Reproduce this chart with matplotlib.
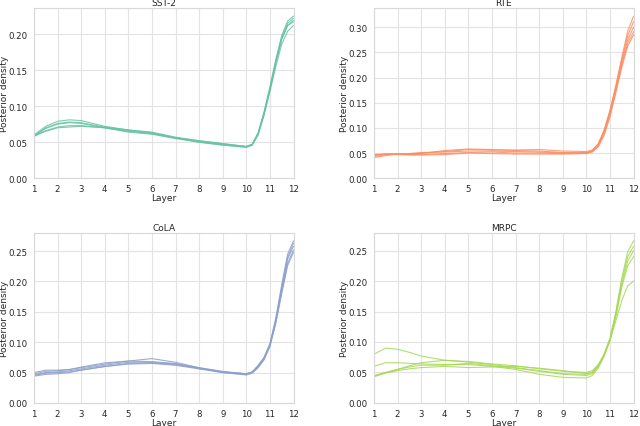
import numpy as np
import seaborn as sns
import matplotlib
matplotlib.use("Agg")
import matplotlib.pyplot as plt

layers = [1, 1.5, 2, 2.5, 3, 4, 5, 6, 7, 8, 9, 10,
          10.25, 10.5, 10.75, 11, 11.25, 11.5, 11.75, 12]

sst2 = [
    [0.060, 0.072, 0.079, 0.081, 0.080, 0.072, 0.067, 0.064, 0.057, 0.052, 0.048, 0.044, 0.047, 0.063, 0.092, 0.127, 0.165, 0.198, 0.218, 0.225],
    [0.059, 0.070, 0.076, 0.078, 0.077, 0.071, 0.067, 0.063, 0.056, 0.051, 0.047, 0.044, 0.047, 0.062, 0.090, 0.124, 0.162, 0.195, 0.215, 0.222],
    [0.058, 0.069, 0.075, 0.077, 0.076, 0.070, 0.066, 0.062, 0.056, 0.050, 0.046, 0.043, 0.046, 0.061, 0.089, 0.123, 0.160, 0.193, 0.212, 0.219],
    [0.058, 0.066, 0.071, 0.073, 0.073, 0.070, 0.065, 0.062, 0.056, 0.052, 0.048, 0.044, 0.047, 0.062, 0.090, 0.124, 0.161, 0.193, 0.212, 0.217],
    [0.059, 0.065, 0.070, 0.071, 0.072, 0.070, 0.064, 0.061, 0.055, 0.050, 0.046, 0.043, 0.046, 0.060, 0.087, 0.120, 0.155, 0.186, 0.204, 0.212],
]

rte = [
    [0.041, 0.045, 0.048, 0.048, 0.049, 0.055, 0.058, 0.057, 0.055, 0.054, 0.051, 0.051, 0.055, 0.068, 0.095, 0.135, 0.185, 0.240, 0.292, 0.322],
    [0.043, 0.047, 0.048, 0.048, 0.050, 0.053, 0.057, 0.056, 0.056, 0.057, 0.054, 0.053, 0.056, 0.068, 0.094, 0.133, 0.182, 0.235, 0.283, 0.311],
    [0.045, 0.048, 0.048, 0.049, 0.051, 0.052, 0.054, 0.054, 0.053, 0.052, 0.050, 0.050, 0.054, 0.066, 0.092, 0.130, 0.178, 0.230, 0.275, 0.300],
    [0.046, 0.048, 0.048, 0.047, 0.047, 0.049, 0.051, 0.052, 0.050, 0.050, 0.049, 0.050, 0.053, 0.064, 0.088, 0.126, 0.174, 0.226, 0.268, 0.291],
    [0.047, 0.048, 0.047, 0.046, 0.046, 0.047, 0.050, 0.049, 0.048, 0.048, 0.048, 0.049, 0.052, 0.062, 0.085, 0.122, 0.170, 0.220, 0.262, 0.285],
]

cola = [
    [0.050, 0.054, 0.054, 0.055, 0.059, 0.066, 0.069, 0.073, 0.067, 0.058, 0.051, 0.048, 0.051, 0.062, 0.075, 0.098, 0.140, 0.195, 0.245, 0.267],
    [0.048, 0.052, 0.053, 0.055, 0.058, 0.064, 0.069, 0.068, 0.065, 0.058, 0.052, 0.048, 0.051, 0.061, 0.074, 0.096, 0.137, 0.190, 0.240, 0.263],
    [0.046, 0.050, 0.051, 0.053, 0.056, 0.062, 0.067, 0.067, 0.064, 0.057, 0.050, 0.047, 0.050, 0.060, 0.073, 0.095, 0.135, 0.188, 0.237, 0.258],
    [0.045, 0.049, 0.050, 0.051, 0.054, 0.060, 0.065, 0.066, 0.063, 0.057, 0.051, 0.048, 0.050, 0.059, 0.072, 0.094, 0.133, 0.183, 0.230, 0.252],
    [0.044, 0.047, 0.048, 0.050, 0.054, 0.060, 0.064, 0.065, 0.062, 0.056, 0.050, 0.046, 0.049, 0.058, 0.071, 0.093, 0.131, 0.180, 0.226, 0.248],
]

mrpc = [
    [0.080, 0.090, 0.088, 0.083, 0.077, 0.070, 0.067, 0.063, 0.058, 0.053, 0.048, 0.047, 0.050, 0.060, 0.078, 0.103, 0.135, 0.168, 0.192, 0.200],
    [0.060, 0.066, 0.066, 0.065, 0.064, 0.063, 0.063, 0.060, 0.055, 0.047, 0.042, 0.041, 0.045, 0.057, 0.077, 0.103, 0.142, 0.190, 0.225, 0.240],
    [0.044, 0.050, 0.055, 0.061, 0.066, 0.070, 0.068, 0.064, 0.061, 0.056, 0.052, 0.050, 0.053, 0.063, 0.080, 0.106, 0.150, 0.205, 0.248, 0.266],
    [0.043, 0.049, 0.053, 0.056, 0.058, 0.060, 0.058, 0.059, 0.060, 0.057, 0.053, 0.048, 0.051, 0.061, 0.079, 0.105, 0.147, 0.200, 0.240, 0.257],
    [0.045, 0.050, 0.055, 0.059, 0.062, 0.062, 0.065, 0.061, 0.057, 0.052, 0.047, 0.045, 0.048, 0.059, 0.077, 0.103, 0.144, 0.195, 0.233, 0.250],
]

tasks = ["SST-2", "RTE", "CoLA", "MRPC"]
runs = [sst2, rte, cola, mrpc]

sns.set_style("whitegrid")
plt.rcParams['font.family'] = ['DejaVu Sans']
plt.rcParams['font.size'] = 6.5

set2 = sns.color_palette("Set2", 8)
colors = [set2[0], set2[1], set2[2], set2[4]]

fig, axes = plt.subplots(2, 2, figsize=(6.4, 4.27), dpi=100)
fig.subplots_adjust(left=0.053, right=0.99, top=0.979, bottom=0.054,
                    wspace=0.31, hspace=0.32)

for ax, name, curves, color in zip(axes.flat, tasks, runs, colors):
    for c in curves:
        ax.plot(layers, c, color=color, lw=0.8, alpha=0.85)
    top = max(max(c) for c in curves)
    ax.set_xlim(1, 12)
    ax.set_ylim(0, top * 1.05)
    ax.set_xticks(range(1, 13))
    ax.set_title(name, fontsize=6.5, pad=2)
    ax.set_xlabel("Layer", fontsize=6.5, labelpad=0)
    ax.set_ylabel("Posterior density", fontsize=6.5, labelpad=0)
    ax.tick_params(labelsize=6.2, pad=1)
    ax.grid(color='#e3e3e3', lw=0.8)
    for s in ax.spines.values():
        s.set_color('#d8d8d8')
        s.set_linewidth(0.8)
    ax.yaxis.set_major_formatter(matplotlib.ticker.FormatStrFormatter('%.2f'))

plt.savefig("out.png", dpi=100)
